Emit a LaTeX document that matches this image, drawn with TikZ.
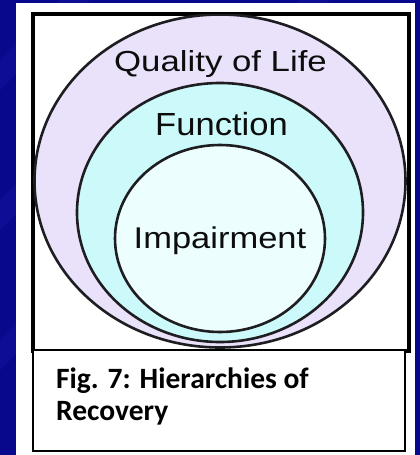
\documentclass[tikz,border=0pt]{standalone}
\usepackage{fontspec}
\setmainfont{Liberation Sans}
\newfontfamily\capfont{Carlito}
\usetikzlibrary{shapes.geometric}
\definecolor{bgblue}{RGB}{8,8,140}
\definecolor{bgstreak}{RGB}{24,24,170}
\definecolor{lavender}{RGB}{234,226,250}
\definecolor{cyanfill}{RGB}{204,250,250}
\definecolor{innerfill}{RGB}{236,254,254}
\definecolor{ringline}{RGB}{30,30,34}
\tikzset{
  ring/.style={ellipse, draw=ringline, line width=2.6pt, inner sep=0pt, outer sep=0pt},
  frame/.style={draw=black, line width=2.6pt, fill=white},
  lbl/.style={inner sep=0pt, text=black!95},
  captxt/.style={inner sep=0pt, anchor=base west, font=\capfont\bfseries\fontsize{29.5}{32}\selectfont, text=black}
}
\begin{document}
\begin{tikzpicture}[x=1pt,y=-1pt]
\useasboundingbox (0,0) rectangle (420,455);
% background
\fill[bgblue] (0,0) rectangle (420,455);
\fill[bgstreak, opacity=0.35] (0,60) -- (60,0) -- (90,0) -- (0,90) -- cycle;
\fill[bgstreak, opacity=0.35] (0,200) -- (16,184) -- (16,214) -- (0,230) -- cycle;
\fill[bgstreak, opacity=0.35] (0,340) -- (16,324) -- (16,354) -- (0,370) -- cycle;
\fill[bgstreak, opacity=0.35] (300,0) -- (330,0) -- (327,3) -- (297,3) -- cycle;
% white panel
\fill[white] (16,3) rectangle (415,455);
% top box
\node[frame, minimum width=375pt, minimum height=336pt, inner sep=0pt, anchor=north west] (topbox) at (32,13) {};
\begin{scope}
\clip (32,13) rectangle (407,349);
\node[ring, fill=lavender, minimum width=371pt, minimum height=333pt] (outer) at (220,181) {};
\node[ring, fill=cyanfill, minimum width=286pt, minimum height=259pt] (middle) at (220,212.5) {};
\node[ring, fill=innerfill, minimum width=210pt, minimum height=187pt] (inner) at (220,238.5) {};
\end{scope}
\draw[black, line width=2.6pt] (topbox.north west) rectangle (topbox.south east);
% labels
\node[lbl, anchor=base] (qol) at (220.5,71) {\scalebox{1.2}[1]{\fontsize{29}{29}\selectfont Quality of Life}};
\node[lbl, anchor=base] (fun) at (221.5,135) {\scalebox{1.08}[1]{\fontsize{32}{32}\selectfont Function}};
\node[lbl, anchor=base] (imp) at (220,248) {\scalebox{1.15}[1]{\fontsize{30}{30}\selectfont Impairment}};
% caption box
\node[frame, minimum width=372pt, minimum height=101pt, inner sep=0pt, anchor=north west, line width=2.2pt] (capbox) at (32,349) {};
\node[captxt] (cap1) at (56,388) {Fig. 7: Hierarchies of};
\node[captxt] (cap2) at (56,420) {Recovery};
\end{tikzpicture}
\end{document}
